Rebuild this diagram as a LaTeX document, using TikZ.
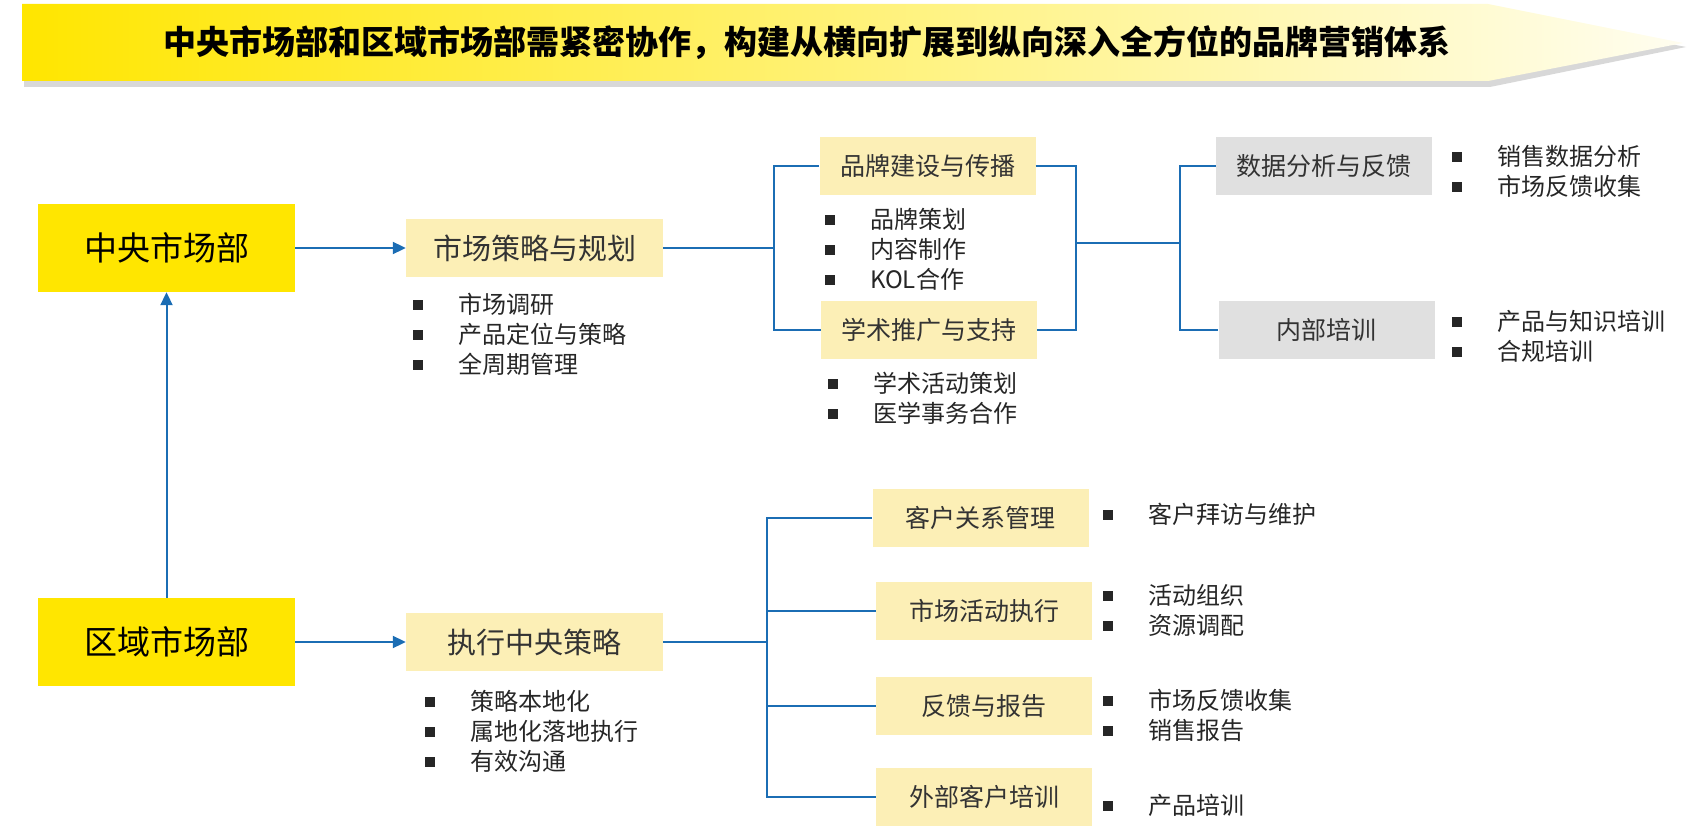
\documentclass[tikz,border=0pt]{standalone}
\usepackage{fontspec}
\setmainfont{Noto Sans CJK SC}
\usepackage{tikz}
\usetikzlibrary{arrows.meta}
\definecolor{mainyel}{HTML}{FFE600}
\definecolor{paleyel}{HTML}{FCEFB6}
\definecolor{boxgray}{HTML}{E0E0E0}
\definecolor{linkblue}{HTML}{1B6DB4}
\newcommand{\sq}{\makebox[45pt][l]{\rule[3pt]{10pt}{10pt}}}

\begin{document}
\begin{tikzpicture}[x=1pt,y=-1pt,
  dept/.style={fill=mainyel,minimum width=257pt,minimum height=88pt,font=\fontsize{33}{36}\selectfont},
  task/.style={fill=paleyel,minimum width=257pt,minimum height=58pt,text=black!80,font=\fontsize{29}{32}\selectfont},
  sub/.style={fill=paleyel,minimum width=216pt,minimum height=58pt,text=black!80,font=\fontsize{25}{28}\selectfont},
  subg/.style={sub,fill=boxgray},
  items/.style={anchor=west,align=left,inner sep=0pt,text=black!85,font=\fontsize{24}{30}\selectfont},
  link/.style={linkblue,line width=2pt},
  arr/.style={link,-{Triangle[length=13pt,width=12pt]}}]
\useasboundingbox (0,0) rectangle (1698,840);
% banner
\fill[black!30,opacity=.5] (24,8) -- (1490,8) -- (1686,47) -- (1490,87) -- (24,87) -- cycle;
\shade[left color=mainyel,middle color=mainyel!45!white,right color=mainyel!6!white]
  (22,4) -- (1488,4) -- (1683,43) -- (1488,81) -- (22,81) -- cycle;
\node[font=\fontsize{33}{36}\selectfont\bfseries] (title) at (807,43)
  {中央市场部和区域市场部需紧密协作，构建从横向扩展到纵向深入全方位的品牌营销体系};

\node[dept] (cmkt) at (166.5,248) {中央市场部};
\node[dept] (rmkt) at (166.5,642) {区域市场部};
\node[task] (plan) at (534.5,248) {市场策略与规划};
\node[task] (exec) at (534.5,642) {执行中央策略};
\node[sub] (brand) at (927.5,166) {品牌建设与传播};
\node[sub] (acad) at (929,330) {学术推广与支持};
\node[subg] (data) at (1324,166) {数据分析与反馈};
\node[subg] (train) at (1326.5,330) {内部培训};
\node[sub] (crm) at (980.5,518) {客户关系管理};
\node[sub] (act) at (984,611) {市场活动执行};
\node[sub] (fbk) at (984,706) {反馈与报告};
\node[sub] (ext) at (984,797) {外部客户培训};

\node[items] (planL) at (413,334) {\sq 市场调研\\\sq 产品定位与策略\\\sq 全周期管理};
\node[items] (execL) at (425,731) {\sq 策略本地化\\\sq 属地化落地执行\\\sq 有效沟通};
\node[items] (brandL) at (825,249) {\sq 品牌策划\\\sq 内容制作\\\sq KOL合作};
\node[items] (acadL) at (828,398) {\sq 学术活动策划\\\sq 医学事务合作};
\node[items] (dataL) at (1452,171) {\sq 销售数据分析\\\sq 市场反馈收集};
\node[items] (trainL) at (1452,336) {\sq 产品与知识培训\\\sq 合规培训};
\node[items] (crmL) at (1103,514) {\sq 客户拜访与维护};
\node[items] (actL) at (1103,610) {\sq 活动组织\\\sq 资源调配};
\node[items] (fbkL) at (1103,715) {\sq 市场反馈收集\\\sq 销售报告};
\node[items] (extL) at (1103,805) {\sq 产品培训};

\coordinate (j1) at (774,248);
\coordinate (j2) at (1076,243);
\coordinate (j3) at (1180,243);
\coordinate (j4) at (767,642);

\foreach \from/\to in {cmkt/plan,rmkt/exec,rmkt/cmkt}
  \draw[arr] (\from) -- (\to);
\draw[link] (plan) -- (j1) |- (brand);
\draw[link] (j1) |- (acad);
\draw[link] (brand) -| (j2) |- (acad);
\draw[link] (j2) -- (j3);
\foreach \to in {data,train}
  \draw[link] (j3) |- (\to);
\draw[link] (exec) -- (j4);
\foreach \to in {crm,act,fbk,ext}
  \draw[link] (j4) |- (\to);
\end{tikzpicture}
\end{document}
